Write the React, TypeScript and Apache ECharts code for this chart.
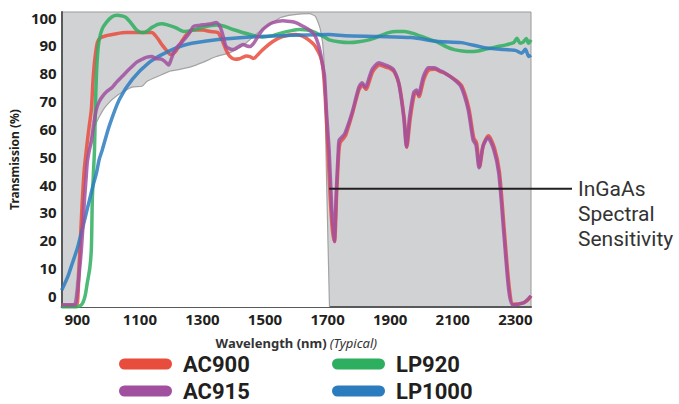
import React, { useEffect, useRef } from "react";
import * as echarts from "echarts";

// Wavelength (nm), transmission (%) pairs
const INGAAS: [number, number][] = [
  [850, -4], [885, -4], [900, 8], [915, 30], [930, 48], [945, 57], [960, 62], [990, 68],
  [1027, 72], [1075, 75], [1107, 75.3], [1122, 77], [1160, 79], [1192, 80.6], [1224, 81.3],
  [1262, 82.3], [1303, 84], [1344, 86], [1388, 87.4], [1430, 90], [1471, 94], [1515, 97.5],
  [1550, 100], [1588, 101], [1642, 101.4], [1661, 100.4], [1677, 95.7], [1688, 86],
  [1697, 40], [1706, -4],
];

const AC900: [number, number][] = [
  [850, -3.5], [895, -3.5], [901, -2], [907, 13], [915, 32], [922, 45], [929, 52.5], [937, 60],
  [945, 67], [950, 77], [955, 84], [964, 91], [975, 92.8], [993, 93.5], [1025, 94.2],
  [1056, 94.6], [1107, 94.6], [1138, 94.6], [1150, 93.5], [1160, 92], [1172, 90], [1183, 88.5],
  [1198, 86.7], [1212, 87.5], [1224, 89.6], [1237, 92], [1249, 93.9], [1271, 95.5], [1300, 95.5],
  [1325, 95], [1350, 94.6], [1358, 93], [1366, 91], [1377, 88], [1388, 86], [1404, 85],
  [1418, 85.2], [1430, 85.8], [1440, 86.2], [1452, 86], [1462, 85.3], [1468, 85.6], [1480, 87],
  [1493, 88.5], [1525, 91.4], [1556, 93.2], [1598, 93.9], [1629, 92.8], [1650, 91], [1661, 89.6],
  [1677, 86], [1685, 82], [1692, 72], [1700, 55], [1708, 36], [1715, 24], [1722, 19.5],
  [1729, 37], [1736, 52], [1740, 55], [1748, 56.2], [1758, 57.8], [1778, 65], [1800, 74],
  [1812, 75.8], [1822, 74.2], [1844, 80.5], [1866, 83], [1885, 82.2], [1898, 81.8], [1913, 80.5],
  [1929, 75.8], [1945, 63.6], [1953, 53.4], [1964, 63.6], [1977, 72.3], [1986, 73.2], [1992, 71.6],
  [2008, 78], [2024, 81.2], [2043, 81.4], [2060, 80.6], [2075, 80], [2107, 77.7], [2129, 75.4],
  [2151, 67.5], [2167, 56.8], [2176, 55], [2186, 46.5], [2198, 54.3], [2214, 57.5], [2233, 53.2],
  [2249, 44.5], [2265, 23], [2281, 2.5], [2293, -3], [2326, -2.5], [2340, -1.5], [2350, 0],
];

const AC915: [number, number][] = [
  [850, -3.2], [891, -3.2], [896, -2], [901, 2], [907, 9], [913, 16.5], [918, 25], [923, 34.5],
  [928, 42], [932, 48], [938, 52], [945, 55.5], [953, 62], [961, 67], [970, 69.8], [980, 71.6],
  [995, 73.5], [1012, 75], [1027, 77], [1043, 78.8], [1060, 80.8], [1075, 82.4], [1090, 84],
  [1107, 85], [1120, 85.7], [1138, 86], [1150, 85.3], [1170, 85], [1182, 84], [1192, 83],
  [1200, 85], [1208, 87.4], [1220, 89.5], [1233, 91], [1255, 93.9], [1271, 96.8], [1290, 97.2],
  [1312, 97.5], [1330, 97.8], [1344, 98.2], [1352, 97.5], [1360, 95.7], [1368, 92.5],
  [1376, 89.6], [1398, 88.5], [1415, 89.5], [1430, 90.3], [1442, 89.8], [1452, 89.6],
  [1462, 90.5], [1471, 92], [1482, 94], [1493, 95.7], [1510, 97.3], [1525, 98.2], [1556, 98.9],
  [1580, 98.6], [1598, 98.2], [1629, 96.4], [1650, 94.8], [1661, 93.2], [1670, 90.5],
  [1677, 87.4], [1684, 83], [1690, 79], [1697, 65], [1705, 52], [1713, 32], [1721, 19.5],
  [1728, 38], [1734, 52], [1737, 56], [1747, 57.2], [1756, 58.6], [1778, 65.8], [1800, 75],
  [1810, 76.6], [1820, 75], [1842, 81.3], [1864, 83.8], [1883, 83], [1895, 82.5], [1911, 81.3],
  [1927, 76.6], [1943, 64.4], [1952, 53.6], [1962, 64.4], [1975, 73], [1984, 74], [1990, 72.3],
  [2006, 78.8], [2022, 82], [2041, 82], [2058, 81], [2073, 80.2], [2105, 77.7], [2127, 75],
  [2149, 67], [2165, 56], [2174, 54.3], [2184, 46], [2196, 53.6], [2212, 56.8], [2231, 52.5],
  [2247, 44], [2263, 22.7], [2279, 2], [2291, -3.2], [2326, -2.5], [2340, -1.2], [2350, 0],
];

const LP920: [number, number][] = [
  [850, -4], [897, -4], [915, -3], [925, 0], [932, 4.7], [940, 10], [945, 17], [948, 34.5],
  [952, 45], [955, 52.5], [958, 68], [961, 79], [965, 87], [970, 92], [980, 96], [993, 98.3],
  [1010, 100.2], [1027, 100.8], [1045, 100.5], [1056, 100], [1072, 98], [1088, 95.7],
  [1100, 94.8], [1113, 94.6], [1125, 95.3], [1138, 96.4], [1155, 97.5], [1170, 97.8],
  [1190, 97.3], [1214, 96.4], [1240, 95], [1270, 95.5], [1300, 96.5], [1344, 97.3], [1370, 96.9],
  [1398, 95.7], [1452, 93.9], [1493, 93], [1525, 93.5], [1556, 94.6], [1585, 95.3], [1610, 95.7],
  [1635, 95.5], [1661, 94.6], [1693, 92.8], [1705, 92], [1735, 91.3], [1769, 91], [1800, 91.3],
  [1832, 92], [1865, 93.3], [1895, 94.6], [1920, 95], [1946, 95], [1970, 94.4], [2000, 93.2],
  [2030, 92], [2054, 91], [2080, 89.5], [2105, 88.5], [2130, 88], [2158, 87.8], [2180, 88],
  [2200, 88.5], [2220, 89], [2244, 89.6], [2270, 90.2], [2295, 91], [2305, 92.6], [2315, 90.8],
  [2325, 91.2], [2335, 92.5], [2342, 90.8], [2350, 92],
];

const LP1000: [number, number][] = [
  [850, 2], [870, 7], [885, 12], [900, 17], [913, 22.6], [926, 28.5], [939, 34.5], [950, 39.5],
  [961, 44], [970, 49], [980, 52.5], [1002, 61], [1034, 70.5], [1075, 77.7], [1129, 83.8],
  [1183, 87.4], [1249, 90.3], [1344, 92], [1452, 93], [1556, 93.5], [1705, 93.9], [1756, 93.5],
  [1864, 93.2], [1968, 92.8], [2054, 91.4], [2127, 91], [2200, 89.2], [2263, 88.5],
  [2300, 88.2], [2320, 87.2], [2332, 88.6], [2343, 86], [2350, 86.5],
];

const X_TICKS = [900, 1100, 1300, 1500, 1700, 1900, 2100, 2300];
const Y_TICKS = [0, 10, 20, 30, 40, 50, 60, 70, 80, 90, 100];

const COLORS: Record<string, string> = {
  AC900: "#e84c3d",
  AC915: "#a0509f",
  LP920: "#2eae5f",
  LP1000: "#2b7cbf",
};

const ANNOT_NM = 1705;
const ANNOT_T = 38.5;
const ANNOT_LINES = ["InGaAs", "Spectral", "Sensitivity"];

const FONT = "'Noto Sans', 'Open Sans', sans-serif";
const ROBOTO = "Roboto, 'Noto Sans', sans-serif";
const DARK = "#231f20";
const ICON = "path://M5.5,0 H47.5 A5.5,5.5 0 0 1 47.5,11 H5.5 A5.5,5.5 0 0 1 5.5,0 Z";

export default function App() {
  const ref = useRef<HTMLDivElement>(null);

  useEffect(() => {
    if (!ref.current) return;
    const chart = echarts.init(ref.current, undefined, { renderer: "svg" });

    const lineSeries = (name: string, data: [number, number][], z: number) => ({
      name,
      type: "line",
      data,
      showSymbol: false,
      smooth: 0.25,
      color: COLORS[name],
      lineStyle: { width: 3.5, color: COLORS[name], opacity: 0.85 },
      z,
    });

    const legendBase = {
      orient: "vertical",
      icon: ICON,
      itemWidth: 53,
      itemHeight: 11,
      itemGap: 3,
      height: 80,
      padding: 0,
      selectedMode: false,
      textStyle: {
        fontFamily: ROBOTO,
        fontSize: 22,
        fontWeight: "bold",
        color: DARK,
        lineHeight: 24,
        padding: [0, 0, 0, 6],
      },
    };

    chart.setOption({
      animation: false,
      textStyle: { fontFamily: FONT },
      grid: {
        left: 57,
        right: 148,
        top: 12,
        bottom: 97,
        show: true,
        backgroundColor: "#d1d2d4",
        borderColor: "#9a9a9a",
        borderWidth: 1,
      },
      legend: [
        { ...legendBase, left: 119, top: 352, data: ["AC900", "AC915"] },
        { ...legendBase, left: 332, top: 352, data: ["LP920", "LP1000"] },
      ],
      xAxis: {
        type: "value",
        min: 850,
        max: 2350,
        name: "{b|Wavelength (nm)} {i|(Typical)}",
        nameLocation: "middle",
        nameGap: 29,
        nameTextStyle: {
          rich: {
            b: { fontFamily: FONT, fontSize: 13, fontWeight: "bold", color: "#333" },
            i: { fontFamily: FONT, fontSize: 13, fontStyle: "italic", color: "#333" },
          },
        },
        axisLine: { show: true, onZero: false, lineStyle: { color: "#58595b", width: 2 } },
        axisTick: { show: false },
        splitLine: { show: false },
        axisLabel: {
          customValues: X_TICKS,
          formatter: (v: number) => String(v),
          margin: 4,
          fontFamily: FONT,
          fontSize: 15,
          fontWeight: "bold",
          color: DARK,
        },
      },
      yAxis: {
        type: "value",
        min: -4,
        max: 102,
        name: "Transmission (%)",
        nameLocation: "middle",
        nameGap: 40,
        nameTextStyle: { fontFamily: FONT, fontSize: 12, fontWeight: "bold", color: DARK },
        axisLine: { show: true, onZero: false, lineStyle: { color: "#58595b", width: 2 } },
        axisTick: { show: false },
        splitLine: { show: false },
        axisLabel: {
          customValues: Y_TICKS,
          formatter: (v: number) => String(v),
          margin: 5,
          fontFamily: FONT,
          fontSize: 15,
          fontWeight: "bold",
          color: DARK,
        },
      },
      series: [
        {
          name: "InGaAs",
          type: "line",
          data: INGAAS,
          showSymbol: false,
          smooth: 0.2,
          lineStyle: { width: 1.2, color: "#a3a3a3" },
          areaStyle: { color: "#ffffff", opacity: 1, origin: "start" },
          z: 1,
        },
        lineSeries("AC900", AC900, 2),
        lineSeries("LP920", LP920, 3),
        lineSeries("LP1000", LP1000, 4),
        lineSeries("AC915", AC915, 5),
      ],
    });

    const p = chart.convertToPixel({ gridIndex: 0 }, [ANNOT_NM, ANNOT_T]) as number[];
    const pEnd = chart.convertToPixel({ gridIndex: 0 }, [2350, ANNOT_T]) as number[];
    chart.setOption({
      graphic: [
        {
          type: "line",
          shape: { x1: p[0], y1: p[1], x2: pEnd[0] + 41, y2: p[1] },
          style: { stroke: "#231f20", lineWidth: 2 },
          z: 100,
        },
        ...ANNOT_LINES.map((t, i) => ({
          type: "text",
          x: pEnd[0] + 47,
          y: p[1] + i * 25,
          style: {
            text: t,
            font: `21px ${ROBOTO}`,
            fill: "#333333",
            verticalAlign: "middle",
          },
          z: 100,
        })),
      ],
    });

    return () => chart.dispose();
  }, []);

  return (
    <div
      ref={ref}
      style={{ position: "absolute", left: 0, top: 0, width: 679, height: 404 }}
    />
  );
}
